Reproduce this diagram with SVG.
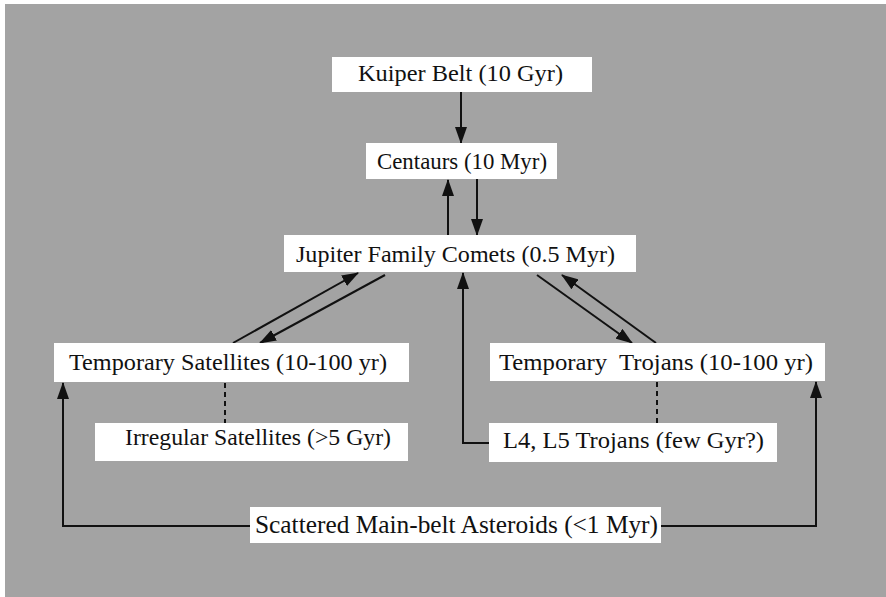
<svg xmlns="http://www.w3.org/2000/svg" width="886" height="597" viewBox="0 0 886 597">
<style>
.box{fill:#ffffff;}
.lbl{font-family:"Liberation Serif","Times New Roman",serif;font-size:24px;fill:#111;}
.ln{stroke:#111;stroke-width:2;fill:none;}
.dash{stroke:#111;stroke-width:2;fill:none;stroke-dasharray:5,4;}
</style>
<defs>
<marker id="ah" markerWidth="17" markerHeight="12" refX="16" refY="6" orient="auto" markerUnits="userSpaceOnUse">
<path d="M0,0 L17,6 L0,12 z" fill="#111"/>
</marker>
</defs>
<rect x="0" y="0" width="886" height="597" fill="#ffffff"/>
<rect x="5" y="4" width="881" height="593" fill="#a3a3a3"/>

<g id="connectors">
<line class="ln" x1="461" y1="92" x2="461" y2="143" marker-end="url(#ah)"/>
<line class="ln" x1="448" y1="235" x2="448" y2="180" marker-end="url(#ah)"/>
<line class="ln" x1="477" y1="179" x2="477" y2="235" marker-end="url(#ah)"/>
<line class="ln" x1="233" y1="343" x2="358" y2="273" marker-end="url(#ah)"/>
<line class="ln" x1="385" y1="275" x2="260" y2="343" marker-end="url(#ah)"/>
<line class="ln" x1="537" y1="275" x2="632" y2="343" marker-end="url(#ah)"/>
<line class="ln" x1="656" y1="343" x2="562" y2="275" marker-end="url(#ah)"/>
<polyline class="ln" points="489,443 463,443 463,273" marker-end="url(#ah)"/>
<polyline class="ln" points="250,526 63,526 63,383" marker-end="url(#ah)"/>
<polyline class="ln" points="661,526 816,526 816,382" marker-end="url(#ah)"/>
<line class="dash" x1="225" y1="383" x2="225" y2="423"/>
<line class="dash" x1="657" y1="382" x2="657" y2="423"/>
</g>

<g id="kuiper">
<rect class="box" x="332" y="57" width="260" height="35"/>
<text class="lbl" x="358" y="81" textLength="205" lengthAdjust="spacingAndGlyphs">Kuiper Belt (10 Gyr)</text>
</g>
<g id="centaurs">
<rect class="box" x="366" y="143" width="191" height="36"/>
<text class="lbl" x="377" y="169" textLength="170" lengthAdjust="spacingAndGlyphs">Centaurs (10 Myr)</text>
</g>
<g id="jfc">
<rect class="box" x="284" y="235" width="352" height="37"/>
<text class="lbl" x="296" y="262" textLength="319" lengthAdjust="spacingAndGlyphs">Jupiter Family Comets (0.5 Myr)</text>
</g>
<g id="temp-satellites">
<rect class="box" x="54" y="343" width="355" height="39"/>
<text class="lbl" x="69" y="370" textLength="318" lengthAdjust="spacingAndGlyphs">Temporary Satellites (10-100 yr)</text>
</g>
<g id="irregular-satellites">
<rect class="box" x="95" y="423" width="313" height="38"/>
<text class="lbl" x="125" y="445" textLength="266" lengthAdjust="spacingAndGlyphs">Irregular Satellites (&gt;5 Gyr)</text>
</g>
<g id="temp-trojans">
<rect class="box" x="490" y="343" width="335" height="38"/>
<text class="lbl" x="499" y="370" textLength="314" lengthAdjust="spacingAndGlyphs" xml:space="preserve">Temporary  Trojans (10-100 yr)</text>
</g>
<g id="l4l5-trojans">
<rect class="box" x="489" y="423" width="288" height="39"/>
<text class="lbl" x="503" y="448" textLength="261" lengthAdjust="spacingAndGlyphs">L4, L5 Trojans (few Gyr?)</text>
</g>
<g id="scattered">
<rect class="box" x="250" y="507" width="411" height="36"/>
<text class="lbl" x="255" y="533" style="font-size:26px" textLength="403" lengthAdjust="spacingAndGlyphs">Scattered Main-belt Asteroids (&lt;1 Myr)</text>
</g>
</svg>
